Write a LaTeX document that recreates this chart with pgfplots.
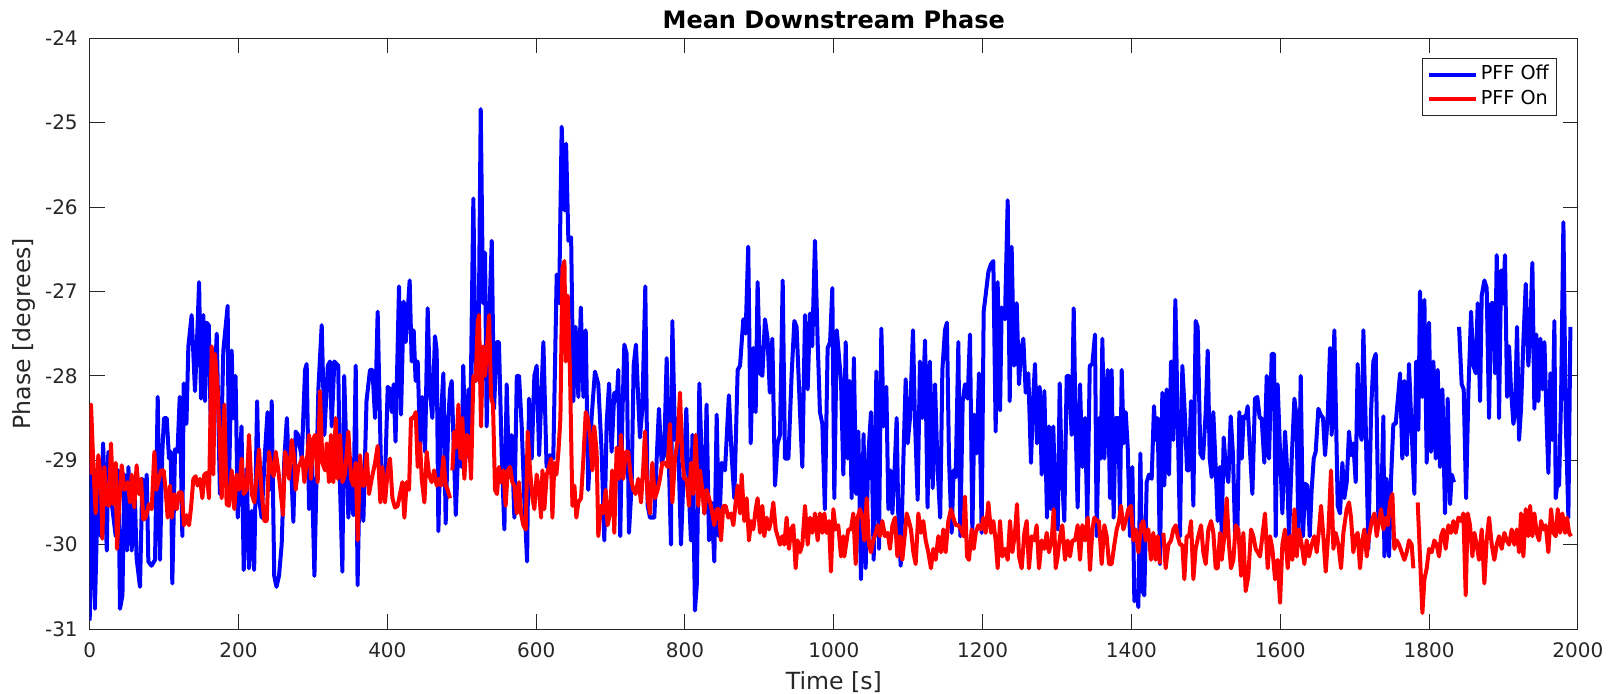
\documentclass[border=0pt]{standalone}
\usepackage{fontspec}
\setmainfont{DejaVu Sans}
\usepackage{pgfplots}
\pgfplotsset{compat=1.18}
\usetikzlibrary{calc}
\definecolor{axgray}{rgb}{0.15,0.15,0.15}
\definecolor{mblue}{rgb}{0,0,1}
\definecolor{mred}{rgb}{1,0,0}
\begin{document}
\begin{tikzpicture}
\begin{axis}[
  scale only axis, width=744.1pt, height=295.45pt,
  xmin=0, xmax=2000, ymin=-31, ymax=-24,
  unbounded coords=jump,
  xtick={0,200,400,600,800,1000,1200,1400,1600,1800,2000},
  xticklabels={0,200,400,600,800,1000,1200,1400,1600,1800,2000},
  ytick={-31,-30,-29,-28,-27,-26,-25,-24},
  yticklabels={-31,-30,-29,-28,-27,-26,-25,-24},
  tick label style={font=\fontsize{10}{12}\selectfont, text=axgray},
  xticklabel style={anchor=base, yshift=-14.2pt},
  yticklabel style={anchor=east, inner sep=0pt, xshift=-5.8pt},
  axis line style={axgray, line width=0.5pt},
  every tick/.style={axgray, line width=0.5pt},
  major tick length=7.5pt,
  tick align=inside,
  xlabel={Time [s]}, ylabel={Phase [degrees]},
  label style={font=\fontsize{11.8}{14}\selectfont, text=axgray},
  xlabel style={at={(axis description cs:0.5,-0.1015)}, anchor=base},
  ylabel style={at={(axis description cs:-0.03965,0.5)}, anchor=base},
  title={Mean Downstream Phase},
  title style={at={(axis description cs:0.5,0.9966)}, anchor=base, font=\bfseries\fontsize{12}{14}\selectfont, text=black},
  legend cell align=left,
  legend style={at={(axis description cs:0.98596,0.96700)}, anchor=north east, draw=axgray, line width=0.5pt, fill=white,
    font=\fontsize{9.6}{11}\selectfont, inner xsep=2.2pt, inner ysep=2.15pt, row sep=0pt,
    nodes={inner sep=1.6pt, text height=7pt, text depth=2pt}},
  legend image code/.code={\draw[#1, line width=2pt] (0pt,0pt) -- (23.5pt,0pt);},
]
\addplot[mblue, line width=2pt, line join=round] coordinates {
(0,-30.90)(2.7,-29.03)(7,-30.76)(11.6,-29.10)(15,-29.90)(18,-28.80)(23,-30.07)(25,-28.90)(29.5,-29.50)(35,-29.90)
(38.5,-29.12)(40.7,-30.76)(44,-30.60)(46.6,-29.17)(50,-30.07)(52,-29.08)(56.4,-30.07)(60,-29.20)(63,-30.16)(67.6,-30.50)
(70.8,-29.22)(73.4,-29.70)(76.6,-29.17)(78.8,-30.20)(83,-30.25)(87.8,-30.18)(91.4,-28.25)(94.5,-30.18)(97.6,-28.90)(99.9,-28.50)
(103.5,-28.50)(106.6,-28.98)(109,-28.90)(111,-30.46)(114.7,-28.87)(118,-28.90)(121,-28.25)(124.5,-29.90)(126.3,-28.09)(130,-28.57)
(132.6,-27.65)(137,-27.28)(141.5,-28.18)(143.8,-27.70)(147,-26.89)(149.6,-28.27)(152.7,-27.28)(155,-28.30)(157,-27.37)(160,-27.40)
(163,-28.70)(166,-28.50)(170.7,-27.50)(175,-29.40)(179.6,-27.70)(185.4,-27.17)(187.2,-29.30)(190.8,-27.70)(193,-28.50)(196,-28.00)
(199,-29.68)(204,-28.60)(207,-30.30)(211,-29.10)(214,-30.28)(217.7,-29.60)(221,-30.30)(225,-28.30)(227.6,-29.45)(231,-29.68)
(235.6,-28.90)(239,-28.43)(242,-29.35)(244.6,-28.30)(248,-30.37)(251,-30.50)(254.4,-30.37)(258,-30.00)(261.6,-28.98)(265,-28.50)
(268,-29.20)(270.6,-29.06)(273.7,-29.73)(276.8,-28.66)(280,-28.70)(285,-28.98)(289.4,-27.93)(291.6,-27.86)(294.8,-29.58)(298.3,-29.03)
(302,-30.37)(307.3,-28.16)(311.8,-27.40)(315.4,-28.70)(320,-27.88)(323,-27.83)(325.2,-28.60)(328.8,-27.83)(334,-27.88)(336.4,-29.30)
(339.6,-30.32)(342,-28.00)(347.6,-29.68)(350,-29.20)(354.3,-29.65)(357.5,-27.88)(360,-30.48)(363,-29.08)(367.8,-29.72)(372,-28.30)
(376.7,-27.93)(380,-27.93)(383.5,-28.50)(387,-27.24)(390,-28.50)(392.4,-29.45)(397,-29.20)(400.5,-28.13)(403.6,-28.16)(406,-28.43)
(408.5,-28.10)(411,-28.78)(415.7,-26.94)(418.4,-28.46)(422,-27.12)(424.7,-27.60)(430,-26.87)(432.7,-27.83)(435.4,-27.46)(438,-28.06)
(440.8,-27.83)(444,-28.80)(447,-28.25)(450.7,-28.90)(454.2,-27.20)(457.4,-28.20)(460.5,-28.50)(464,-27.53)(466.3,-27.70)(468.6,-29.84)
(472,-28.50)(475.3,-27.97)(478.4,-29.75)(482,-28.50)(484.3,-28.16)(486.5,-28.06)(492,-29.65)(496.4,-28.60)(500,-29.08)(502,-27.88)
(505.3,-28.98)(509,-28.16)(511,-28.90)(515.6,-25.90)(518.8,-28.06)(522.3,-27.97)(525.5,-24.84)(528.6,-27.14)(531.3,-26.54)(533.5,-28.60)
(536.7,-27.37)(540.3,-26.40)(543.4,-28.39)(547,-27.60)(550,-27.60)(553.7,-28.94)(557.3,-29.82)(560.4,-28.10)(563.6,-29.20)(567,-28.70)
(570.7,-29.68)(574,-28.00)(577,-28.00)(580.6,-28.60)(584,-29.45)(587.8,-30.20)(590.4,-28.27)(594,-28.98)(597.6,-28.00)(600.7,-27.88)
(604,-28.94)(609.7,-27.60)(614,-29.08)(618.7,-28.94)(623,-28.98)(627.6,-26.80)(630.8,-27.14)(634.3,-25.05)(638,-26.04)(640.2,-25.25)
(643.3,-26.40)(647,-26.36)(650,-28.30)(653,-27.42)(656.7,-28.25)(660,-27.19)(663.5,-28.25)(666.6,-27.46)(670,-29.35)(674.6,-28.48)
(679,-27.95)(683.5,-28.10)(688,-28.90)(691.6,-29.95)(694.7,-28.57)(698,-28.09)(701.4,-28.90)(705,-28.20)(708.2,-28.30)(710.4,-27.93)
(713,-29.90)(715.8,-28.50)(718.5,-27.63)(721.6,-27.74)(724.7,-29.86)(728.3,-29.30)(731,-27.88)(734.1,-27.63)(737.3,-28.30)(739.5,-28.73)
(742.7,-28.39)(746.7,-26.94)(749.8,-29.54)(753,-29.68)(758.8,-29.68)(762,-28.98)(765,-28.39)(768.6,-29.03)(772,-28.94)(775.4,-27.79)
(778.5,-29.08)(781.2,-30.00)(783,-27.35)(786.6,-28.76)(790,-28.50)(794.6,-30.00)(798,-29.20)(801.8,-28.39)(804.5,-29.20)(808,-29.95)
(810,-28.70)(813.4,-30.78)(816,-30.46)(819.3,-28.09)(822.4,-28.98)(826,-29.63)(829,-28.34)(832.3,-29.95)(835.8,-29.50)(839.4,-30.20)
(842.6,-28.46)(845.7,-29.90)(849.3,-29.03)(853.8,-29.12)(859,-28.23)(862.7,-28.94)(866.3,-29.45)(870.8,-27.93)(874,-27.88)(878.4,-27.33)
(881.5,-27.50)(885,-26.47)(888.3,-28.80)(891.8,-27.67)(895,-28.43)(897.6,-26.89)(900.8,-27.97)(904,-28.00)(907.5,-27.33)(911,-27.56)
(914,-28.20)(917.4,-27.56)(921,-29.30)(924.5,-28.80)(927.7,-28.70)(931.3,-26.87)(934.4,-28.98)(939,-28.98)(943.4,-27.97)(947,-27.35)
(950,-27.42)(954.6,-28.43)(957.7,-29.08)(961.3,-27.28)(964.9,-28.16)(968,-27.26)(971,-27.65)(974.7,-26.40)(978.3,-27.60)(981.4,-28.43)
(984.6,-28.57)(988,-29.58)(991.7,-27.67)(995,-27.60)(998,-26.96)(1000.7,-29.45)(1004,-27.46)(1009.7,-28.06)(1012.8,-29.17)(1016,-27.60)
(1018.6,-28.98)(1021,-28.06)(1024,-29.45)(1027,-27.79)(1030,-29.40)(1033,-28.66)(1036.5,-30.41)(1040,-28.69)(1042.8,-30.28)(1046.4,-28.94)
(1050,-28.43)(1053.6,-30.18)(1057.2,-27.95)(1060.7,-30.05)(1063.9,-27.44)(1067,-28.60)(1070.6,-28.13)(1073.3,-29.58)(1076,-29.12)(1078.7,-29.63)
(1081.4,-29.17)(1084.5,-28.50)(1086.7,-29.68)(1089.9,-30.25)(1093.4,-29.03)(1096.6,-28.04)(1099.3,-28.80)(1102.4,-28.50)(1106.4,-27.46)(1109,-28.50)
(1112.7,-29.47)(1115.8,-27.83)(1119,-28.50)(1122.6,-27.58)(1126,-29.56)(1129,-27.83)(1132.9,-29.33)(1136,-28.10)(1139.6,-29.12)(1143,-29.68)
(1145.9,-27.93)(1149.4,-27.46)(1152,-27.37)(1154.8,-28.98)(1158.4,-29.86)(1161,-29.12)(1163.8,-29.20)(1167.4,-27.60)(1170,-29.90)(1173.2,-28.30)
(1176.3,-28.10)(1179.9,-28.27)(1183,-27.51)(1186.2,-29.86)(1188.9,-28.46)(1192,-28.92)(1195.1,-27.97)(1198.7,-29.86)(1201.4,-27.24)(1204,-27.05)
(1207.7,-26.77)(1211,-26.68)(1214.4,-26.64)(1217.5,-28.66)(1220.2,-26.89)(1223.4,-28.41)(1225.6,-27.19)(1230,-27.33)(1233.7,-25.92)(1236.4,-28.30)
(1239,-26.47)(1242.2,-27.88)(1245.8,-27.14)(1248.9,-28.10)(1251.6,-27.70)(1254.7,-27.56)(1257.9,-28.20)(1261.4,-27.97)(1265,-29.03)(1267.7,-28.30)
(1270.4,-27.86)(1273,-28.80)(1276.7,-28.13)(1279.4,-29.17)(1283,-28.18)(1286.5,-29.68)(1289.2,-28.60)(1291.9,-29.58)(1295,-28.60)(1298.2,-29.68)
(1300.9,-29.82)(1303.6,-28.09)(1306.2,-29.12)(1309.8,-29.72)(1313,-28.00)(1316,-28.00)(1319.7,-28.70)(1322.4,-27.20)(1325,-28.60)(1327.7,-29.56)
(1330.9,-28.10)(1334,-29.08)(1337.6,-28.50)(1340.7,-29.72)(1344,-27.88)(1347.5,-27.86)(1351,-27.51)(1353.3,-29.90)(1356.4,-28.50)(1359,-28.98)
(1360.9,-27.56)(1363.6,-28.98)(1368,-27.93)(1371.2,-29.45)(1373.4,-27.93)(1376.1,-29.68)(1378.8,-28.50)(1382.4,-28.50)(1384.6,-29.60)(1386.9,-27.93)
(1389.6,-28.80)(1392.3,-28.43)(1395,-28.85)(1398,-29.90)(1401.2,-29.08)(1403.9,-30.67)(1407,-30.55)(1409.3,-30.74)(1412,-28.92)(1414.7,-30.55)
(1417.3,-30.60)(1420.5,-29.26)(1423.6,-29.17)(1427.2,-29.22)(1430.3,-28.36)(1432.6,-28.76)(1435.3,-28.50)(1438.4,-30.23)(1441.5,-28.20)(1444.2,-29.30)
(1447.4,-28.16)(1450.5,-29.17)(1453.2,-27.83)(1456.3,-28.76)(1459,-27.10)(1462.1,-28.50)(1465.3,-29.90)(1468.4,-27.88)(1472,-28.50)(1474.7,-29.12)
(1477.4,-29.12)(1480,-28.30)(1483.2,-29.54)(1486.3,-27.35)(1489,-27.42)(1492.6,-28.92)(1496.2,-28.98)(1499.8,-28.43)(1502.5,-27.70)(1505.2,-28.98)
(1507.9,-29.20)(1510,-28.43)(1513.2,-29.08)(1515.9,-29.72)(1519,-29.08)(1521.3,-29.86)(1524,-28.73)(1526.7,-29.08)(1530.2,-29.26)(1533.4,-28.48)
(1536.5,-28.94)(1539.2,-29.86)(1542.3,-29.90)(1545,-28.43)(1548.2,-28.98)(1550.8,-28.48)(1553.5,-28.50)(1556.2,-28.36)(1559.4,-28.90)(1562.5,-29.40)
(1566,-28.27)(1569.2,-28.25)(1572.4,-28.50)(1575,-28.50)(1578.6,-29.03)(1581.8,-28.00)(1584.9,-28.98)(1588.5,-27.74)(1591.6,-27.74)(1593.9,-29.90)
(1596.5,-28.10)(1599.7,-28.90)(1602.8,-29.63)(1606.4,-28.66)(1609,-29.08)(1611.8,-29.90)(1615.4,-28.98)(1619,-28.27)(1622,-28.50)(1624.3,-29.86)
(1627.5,-28.00)(1630.6,-29.90)(1633.3,-29.28)(1636.4,-29.30)(1639.6,-29.90)(1642.2,-29.35)(1645,-28.98)(1647.6,-28.90)(1651.2,-28.39)(1654.3,-28.46)
(1657.5,-28.50)(1660.2,-28.94)(1663.7,-28.50)(1666.9,-27.67)(1669.1,-28.70)(1672.7,-27.46)(1677.2,-29.54)(1680.3,-29.63)(1683.5,-29.03)(1686.1,-29.45)
(1689.3,-29.26)(1692.4,-28.66)(1695.1,-28.94)(1698.2,-28.80)(1701.4,-29.26)(1704,-27.86)(1706.8,-28.66)(1709.4,-28.76)(1711.7,-27.46)(1714.8,-28.57)
(1718.4,-30.05)(1722,-28.43)(1725.1,-27.83)(1728.3,-27.74)(1731.8,-29.68)(1735.4,-29.63)(1738.6,-28.48)(1739.9,-30.14)(1743,-29.22)(1746.2,-30.14)
(1748.9,-29.22)(1752,-28.57)(1755.1,-28.57)(1757.8,-28.30)(1761,-27.97)(1764,-28.98)(1766.8,-28.06)(1770,-28.94)(1773,-27.86)(1776.6,-28.66)
(1780.2,-29.40)(1782.5,-27.83)(1785.6,-28.64)(1787.8,-27.00)(1791,-28.25)(1793.7,-27.10)(1796.8,-29.03)(1800,-27.37)(1802.6,-28.90)(1805.8,-27.83)
(1808.9,-28.98)(1811.6,-27.93)(1814.7,-29.08)(1817.9,-28.16)(1821.4,-29.63)(1825,-28.27)(1828.2,-29.52)(1830.4,-29.17)(1833.5,-29.26)(1837,nan)
(1840.3,-27.42)(1843.8,-28.10)(1846.5,-28.16)(1849.7,-29.45)(1852.8,-28.20)(1856.4,-27.24)(1859.5,-27.88)(1862.7,-27.97)(1865.3,-27.14)(1868.5,-28.30)
(1870.7,-27.05)(1874.3,-26.87)(1877.4,-26.96)(1880.6,-28.50)(1883.3,-27.14)(1886.4,-27.14)(1888.6,-27.97)(1890.9,-26.57)(1894,-28.50)(1896.7,-26.75)
(1899.4,-27.14)(1902,-26.57)(1904.8,-28.25)(1907.5,-27.65)(1910.1,-28.16)(1913.3,-28.57)(1915.5,-28.43)(1918.2,-27.42)(1920.9,-28.76)(1923.6,-28.39)
(1926.7,-27.60)(1929.9,-26.91)(1933.4,-27.88)(1936.1,-27.42)(1938.8,-26.66)(1941.5,-28.39)(1944.2,-27.51)(1946.9,-28.30)(1949.6,-27.56)(1952.3,-28.16)
(1955,-27.60)(1958.1,-28.57)(1960.3,-29.15)(1963,-27.97)(1965.7,-28.76)(1968.4,-27.35)(1970.2,-29.45)(1972.9,-29.22)(1974.7,-29.30)(1977.4,-28.25)
(1980.5,-26.18)(1983.6,-28.50)(1987.2,-29.68)(1989.9,-27.42)
};
\addlegendentry{PFF Off}
\addplot[mred, line width=2pt, line join=round] coordinates {
(0,-29.17)(1.8,-28.34)(5,-29.08)(8,-29.63)(11.6,-28.94)(15,-29.22)(17,-29.93)(19.7,-29.08)(22.8,-29.52)(26,-29.54)
(28.6,-28.80)(31.8,-29.52)(35,-29.03)(36.7,-30.05)(39.4,-29.58)(43,-29.06)(46.6,-29.35)(51,-29.26)(54.2,-29.50)(56.4,-29.17)
(60,-29.56)(63,-29.06)(66.3,-29.40)(69,-29.22)(72,-29.70)(75.2,-29.68)(79.7,-29.52)(83.3,-29.58)(86.9,-28.90)(89.6,-29.35)
(93.2,-29.22)(95.8,-29.12)(99.4,-29.12)(102,-29.35)(104.8,-29.68)(108,-29.30)(110.2,-29.68)(113.8,-29.40)(117,-29.58)(120,-29.38)
(123.6,-29.38)(126.8,-29.77)(130.3,-29.65)(133.5,-29.77)(136.2,-29.56)(139.3,-29.22)(142.4,-29.19)(145,-29.30)(148.3,-29.22)(151.4,-29.45)
(154,-29.17)(157.2,-29.15)(160.3,-29.45)(164,-27.65)(166.2,-29.17)(168.4,-27.74)(172,-28.16)(175,-28.80)(177.4,-29.45)(181,-28.34)
(184,-29.52)(187.2,-29.54)(190.8,-29.12)(194.4,-29.58)(197.5,-29.17)(200.7,-29.35)(204.3,-28.98)(207,-29.40)(211,-29.35)(214.1,-28.70)
(217.7,-29.40)(221.3,-29.50)(224.4,-29.17)(227.6,-28.87)(231.1,-29.38)(234.7,-29.72)(237.9,-29.72)(241,-28.90)(244.6,-29.12)(247.3,-29.19)
(250,-28.90)(253.5,-29.12)(257.1,-29.42)(259.8,-29.65)(262.5,-28.90)(264.7,-28.98)(267.9,-29.22)(271.5,-28.76)(275,-28.98)(276.8,-29.35)
(280.4,-29.08)(283,-29.03)(285.8,-28.96)(288.5,-29.26)(291.6,-29.03)(294.8,-28.70)(297.4,-29.22)(300,-28.76)(302.8,-28.70)(306.4,-29.26)
(309.5,-28.18)(312.7,-29.03)(316.3,-29.12)(318.5,-28.80)(321.6,-29.26)(324.3,-28.70)(327.5,-29.26)(330.6,-28.50)(333.3,-29.22)(336.4,-28.70)
(339.6,-29.26)(343.1,-29.17)(347.6,-28.66)(351.2,-29.22)(354.3,-29.30)(357.5,-29.03)(360.2,-29.95)(363.3,-28.94)(366.4,-29.30)(369.1,-29.30)
(372.3,-28.92)(375.4,-29.40)(379,-29.22)(383.5,-29.03)(387,-28.83)(390.6,-29.50)(393.3,-29.08)(396.9,-29.50)(400.5,-29.12)(403.6,-28.98)
(406.8,-29.45)(410.3,-29.56)(413.9,-29.54)(417,-29.40)(420.2,-29.26)(422.9,-29.68)(426,-29.26)(429.2,-29.35)(431.8,-28.50)(435,-28.50)
(438.1,-28.43)(440.8,-29.08)(444,-28.80)(446.2,-29.22)(449.8,-29.50)(452.9,-28.90)(456,-29.17)(459.6,-29.26)(462.8,-29.12)(466.3,-29.30)
(469.5,-29.22)(472.2,-29.30)(475.3,-28.96)(478.4,-29.30)(481.1,-29.35)(484.3,-29.45)(486,nan)(487.4,-29.12)(490,-28.66)(492.8,-28.85)
(495.5,-28.34)(498.2,-28.98)(500.8,-28.50)(503.5,-29.22)(506.7,-28.70)(509.8,-28.73)(512.5,-29.22)(515.6,-28.00)(518.8,-28.06)(521.4,-27.37)
(523.2,-27.28)(525.9,-28.60)(528.6,-27.65)(531.3,-28.00)(534,-27.65)(536.7,-27.28)(539.4,-28.25)(542,-28.34)(544.7,-29.35)(547.4,-29.40)
(550.1,-29.08)(552.8,-29.26)(556,-29.12)(559,-29.54)(561.8,-29.12)(565,-29.08)(568,-29.26)(570.7,-29.30)(573.9,-29.63)(577,-29.26)
(579.7,-29.63)(582.8,-29.77)(586,-29.82)(588.6,-28.66)(591.8,-29.12)(595,-29.45)(597.6,-29.58)(600.7,-29.17)(603.9,-29.35)(606.6,-29.68)
(608.4,-29.12)(611,-29.58)(614.2,-29.17)(617.3,-29.08)(620,-28.98)(621.8,-29.68)(624.5,-29.03)(627.2,-29.17)(629.9,-28.90)(632.6,-28.50)
(635.2,-26.73)(638,-26.64)(639.7,-27.83)(642.4,-27.05)(645.5,-27.97)(648.7,-29.54)(651.4,-29.30)(654,-29.68)(656.7,-29.50)(660.3,-29.45)
(663.5,-28.98)(666.6,-28.43)(669.3,-28.50)(672.4,-28.70)(675.5,-29.12)(678.1,-28.60)(681.3,-28.90)(683.5,-29.90)(687.1,-29.54)(690.2,-29.63)
(693.4,-29.35)(696,-29.77)(699.2,-29.63)(702.3,-29.12)(705,-29.86)(708.2,-28.85)(711.3,-29.22)(714,-28.70)(717.1,-29.22)(720.3,-28.90)
(723.8,-28.90)(727.4,-29.22)(730.6,-29.35)(733.7,-29.40)(737.3,-29.22)(740.9,-29.50)(744,-29.08)(746.2,-28.66)(749.8,-29.45)(753,-29.63)
(756.1,-29.03)(759.7,-29.45)(763.3,-29.35)(766.4,-29.22)(769.5,-29.03)(773.1,-29.03)(776.7,-29.08)(779.8,-28.57)(783,-29.50)(786.6,-28.98)
(790.1,-28.76)(793.3,-28.20)(796.4,-28.98)(799.1,-29.22)(802.2,-29.22)(805.4,-29.54)(808.1,-29.03)(811.2,-29.40)(814.3,-28.70)(817.9,-29.54)
(820.2,-29.12)(823.3,-29.35)(826,-29.63)(829.1,-29.35)(832.3,-29.45)(835.8,-29.58)(839.4,-29.77)(842.6,-29.58)(845.7,-29.58)(848.4,-29.95)
(851.5,-29.54)(854.7,-29.54)(858.2,-29.68)(861.8,-29.63)(865,-29.77)(868.1,-29.50)(870.8,-29.30)(874,-29.63)(876.2,-29.17)(879.7,-29.72)
(882.9,-29.45)(886,-29.95)(888.7,-29.72)(891.8,-29.82)(895,-29.58)(897.6,-29.45)(900.8,-29.86)(904,-29.54)(906.6,-29.90)(909.8,-29.68)
(912.9,-29.82)(915.6,-29.72)(918.7,-29.50)(921.9,-29.82)(924.5,-29.90)(927.7,-30.00)(930.8,-29.90)(933.5,-30.00)(936.6,-29.68)(939.8,-30.05)
(942.5,-29.82)(945.6,-29.77)(948.7,-30.28)(951.4,-29.95)(954.6,-30.09)(957.7,-30.00)(961.3,-29.54)(964.9,-30.00)(968,-29.68)(971.1,-29.86)
(974.7,-29.63)(978.3,-29.95)(981.4,-29.63)(984.6,-29.86)(987.3,-29.63)(990.4,-29.86)(993.5,-29.72)(996.2,-30.32)(999.4,-29.58)(1002.5,-29.82)
(1006,-29.77)(1009.7,-30.14)(1012.8,-29.90)(1014.1,-30.14)(1019.5,-29.82)(1023,-29.82)(1026.2,-29.63)(1029.4,-30.23)(1032,-29.68)(1035.2,-29.58)
(1038.3,-29.68)(1041,-29.95)(1044.2,-29.45)(1047.3,-30.00)(1050,-30.09)(1053.1,-29.95)(1056.3,-29.86)(1059,-29.77)(1062.1,-29.90)(1065.2,-29.72)
(1068.8,-29.90)(1072.4,-29.86)(1075.5,-30.05)(1078.7,-29.77)(1082.2,-29.68)(1085.4,-30.14)(1089,-29.90)(1092.1,-30.18)(1095.7,-29.86)(1097.9,-29.63)
(1101,-29.72)(1103.7,-29.82)(1106.9,-30.09)(1110,-30.23)(1113.6,-29.63)(1117.2,-29.86)(1120.3,-29.72)(1123.5,-29.95)(1127,-30.09)(1130.6,-30.28)
(1133.8,-30.05)(1136.9,-30.18)(1140.5,-29.90)(1144.1,-30.09)(1147.2,-29.82)(1150.3,-30.09)(1153.9,-29.72)(1157.5,-29.58)(1160.6,-29.68)(1163.8,-29.77)
(1167.4,-29.77)(1171,-29.82)(1174.1,-29.90)(1176.3,-29.43)(1179,-30.14)(1181.7,-30.18)(1185.3,-29.82)(1188,-30.05)(1190.7,-29.86)(1194.2,-29.77)
(1197.8,-29.82)(1201,-29.68)(1204.1,-29.86)(1207.7,-29.50)(1211.3,-29.86)(1214.4,-29.72)(1217.5,-29.95)(1220.2,-30.28)(1223.4,-29.72)(1226.5,-30.14)
(1230.1,-30.05)(1233.7,-30.18)(1236.8,-29.72)(1240,-30.09)(1243.5,-29.86)(1246.2,-29.52)(1248.9,-30.14)(1252.5,-30.28)(1256.1,-29.86)(1259.2,-29.72)
(1262.3,-30.28)(1265.9,-29.90)(1269.5,-29.95)(1272.6,-29.77)(1275.8,-30.28)(1279.4,-29.95)(1283,-30.05)(1286.1,-29.86)(1289.2,-30.09)(1292.8,-29.95)
(1295.5,-29.58)(1298.2,-30.28)(1300.9,-30.14)(1304,-29.90)(1307.1,-29.77)(1310.7,-30.18)(1314.3,-29.95)(1317.4,-30.14)(1320.6,-29.95)(1324.2,-29.95)
(1327.7,-29.77)(1330.9,-30.18)(1334,-29.77)(1337.6,-29.95)(1341.2,-29.68)(1344.3,-30.30)(1347.5,-29.82)(1350.1,-29.68)(1353.3,-29.72)(1356.4,-29.72)
(1360,-30.23)(1363.6,-29.77)(1366.7,-29.90)(1369.9,-30.23)(1373.4,-30.23)(1377,-30.00)(1380.2,-29.82)(1383.3,-29.72)(1386,-29.54)(1389.1,-29.82)
(1392.3,-29.72)(1395.8,-29.58)(1399.4,-29.54)(1402.6,-29.95)(1405.7,-29.82)(1409.3,-30.09)(1412.9,-29.77)(1416,-29.72)(1419.1,-29.95)(1422.7,-29.82)
(1426.3,-30.18)(1429.4,-29.86)(1432.6,-30.18)(1435.3,-29.90)(1438.4,-30.23)(1440.5,nan)(1442.9,-29.86)(1446,-30.28)(1449.6,-30.00)(1453.2,-29.95)
(1456.3,-29.82)(1459.5,-29.77)(1462.1,-29.90)(1465.3,-30.00)(1468.4,-30.00)(1471.1,-30.41)(1474.2,-29.90)(1477.4,-29.90)(1480.1,-29.72)(1483.2,-30.41)
(1486.3,-30.05)(1489.9,-29.90)(1493.5,-29.77)(1496.6,-30.09)(1499.8,-30.23)(1503.4,-29.82)(1507,-29.72)(1510.1,-29.86)(1513.2,-30.28)(1515.9,-30.28)
(1519,-29.86)(1521.3,-30.18)(1524.9,-29.90)(1528,-29.45)(1531.1,-30.00)(1533.8,-30.28)(1537,-30.18)(1540.1,-29.77)(1543.7,-29.82)(1547.3,-30.37)
(1550.4,-29.86)(1553.5,-30.55)(1557.1,-30.37)(1560.7,-29.82)(1563.8,-29.90)(1567,-30.05)(1569.7,-30.09)(1572.8,-30.14)(1575.9,-29.90)(1579.5,-29.63)
(1583.1,-30.28)(1586.2,-29.90)(1589.4,-30.05)(1593,-30.41)(1596.5,-30.18)(1599.7,-30.69)(1602.8,-30.00)(1606.4,-29.82)(1610,-30.28)(1613.1,-29.90)
(1616.3,-30.18)(1619,-29.58)(1622.1,-30.14)(1625.2,-29.82)(1628.8,-30.00)(1632.4,-30.23)(1635.5,-29.95)(1638.7,-30.14)(1642.2,-30.00)(1645.8,-29.90)
(1649,-30.09)(1652.1,-29.82)(1654.8,-29.54)(1657.9,-29.90)(1661.1,-30.32)(1664.6,-29.86)(1668.2,-29.12)(1671.4,-30.05)(1674.5,-29.86)(1678.1,-30.00)
(1681.7,-30.28)(1684.8,-29.86)(1689.3,-29.58)(1692.4,-29.50)(1695.1,-29.68)(1698.2,-30.09)(1701.4,-29.90)(1704,-29.86)(1707.2,-30.28)(1710.3,-29.95)
(1713,-29.82)(1716.2,-30.14)(1719.3,-29.90)(1722.9,-29.72)(1726.5,-29.63)(1729.6,-29.90)(1731.8,-29.77)(1735.4,-29.58)(1738.6,-29.82)(1741.7,-29.68)
(1744.4,-29.77)(1747.5,-29.50)(1750.7,-29.40)(1753.3,-30.05)(1756.5,-29.95)(1759.6,-30.00)(1763.2,-30.09)(1766.8,-30.18)(1769.9,-30.09)(1773.1,-29.95)
(1776.6,-30.00)(1778.9,-30.28)(1782,nan)(1784.7,-29.50)(1787.8,-30.14)(1791,-30.81)(1793.7,-30.41)(1796.8,-30.28)(1800,-30.05)(1803.5,-30.09)
(1807.1,-29.95)(1810.2,-30.00)(1813.4,-30.14)(1816.1,-29.90)(1819.2,-29.82)(1822.3,-30.05)(1825.9,-29.77)(1829.5,-29.86)(1832.6,-29.72)(1835.8,-29.86)
(1839.4,-29.68)(1843,-29.72)(1846.1,-29.63)(1849.2,-30.60)(1851.9,-29.63)(1855,-29.77)(1858.2,-30.14)(1860.9,-29.86)(1864,-30.00)(1867.1,-30.18)
(1870.7,-29.82)(1874.3,-30.46)(1877.4,-29.95)(1880.6,-29.68)(1884.2,-30.00)(1887.7,-30.18)(1890.9,-30.00)(1894,-29.90)(1897.6,-30.05)(1901.2,-29.86)
(1904.3,-29.95)(1907.5,-30.00)(1911,-29.82)(1914.6,-30.00)(1917.8,-29.82)(1920.9,-30.09)(1923.6,-29.63)(1926.7,-30.14)(1929.9,-29.58)(1933.4,-29.90)
(1935.7,-29.54)(1938.8,-29.90)(1941.5,-29.63)(1944.6,-29.86)(1947.8,-29.95)(1950.5,-29.72)(1953.6,-29.82)(1956.7,-29.77)(1960.3,-30.09)(1963.9,-29.58)
(1967,-29.86)(1970.2,-29.90)(1972.9,-29.58)(1976,-29.86)(1979.1,-29.63)(1982.7,-29.86)(1985.4,-29.68)(1988.1,-29.86)(1990.8,-29.90)
};
\addlegendentry{PFF On}
\end{axis}
\pgfresetboundingbox
\path ($(current axis.south west)+(-44.85pt,-32.45pt)$) rectangle ($(current axis.north east)+(19.55pt,19.1pt)$);
\end{tikzpicture}
\end{document}
